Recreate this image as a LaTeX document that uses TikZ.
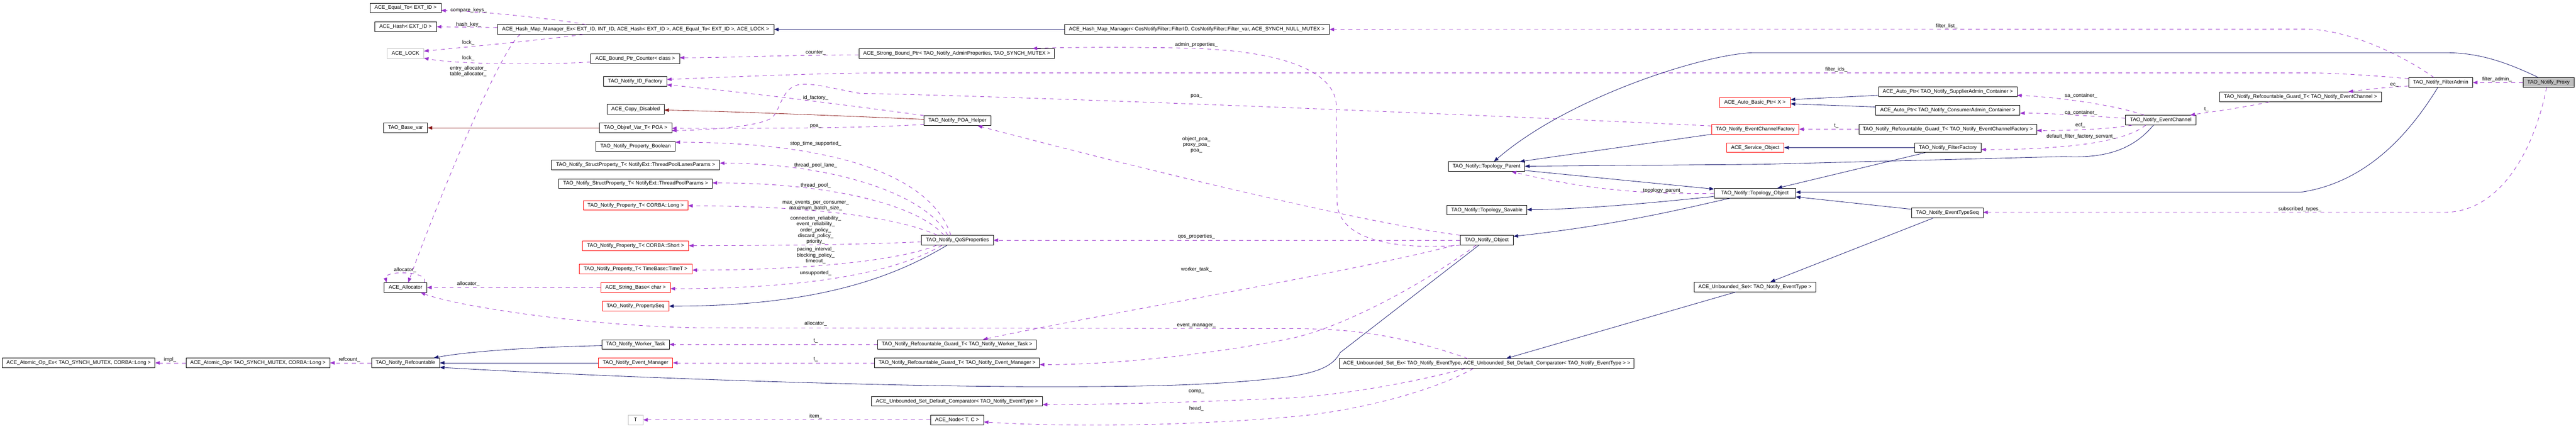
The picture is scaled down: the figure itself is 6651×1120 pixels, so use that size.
\documentclass[tikz,border=0pt]{standalone}
\usepackage{fontspec}
\setmainfont{Liberation Sans}
\usetikzlibrary{arrows.meta}
\definecolor{edgenavy}{HTML}{191970}
\definecolor{edgepurple}{HTML}{9A32CD}
\definecolor{edgered}{HTML}{8B1A1A}
\definecolor{nodegray}{HTML}{BFBFBF}
\tikzset{
 cls/.style={draw=black, line width=1pt, fill=white, minimum height=25pt, inner sep=0pt, font=\fontsize{13.3}{15}\selectfont},
 redcls/.style={cls, draw=red},
 graycls/.style={cls, draw=nodegray},
 maincls/.style={cls, fill=nodegray},
 inh/.style={draw=edgenavy, line width=1.1pt, -{Triangle[length=12pt,width=9pt]}},
 priv/.style={draw=edgered, line width=1.1pt, -{Triangle[length=12pt,width=9pt]}},
 uses/.style={draw=edgepurple, line width=1.1pt, dash pattern=on 10pt off 10pt, -{Triangle[length=12pt,width=9pt]}},
 lbl/.style={font=\fontsize{13.3}{15}\selectfont, inner sep=0pt, align=center, text=black},
}
\begin{document}
\begin{tikzpicture}[x=1pt,y=-1pt]
\useasboundingbox[fill=white] (0,0) rectangle (6651,1120);
% ---------- nodes ----------
\node[cls, minimum width=183pt] (EqualTo) at (1047,20.5) {ACE\_Equal\_To< EXT\_ID >};
\node[cls, minimum width=160pt] (Hash) at (1047,68.5) {ACE\_Hash< EXT\_ID >};
\node[graycls, minimum width=94pt] (Lock) at (1047,138) {ACE\_LOCK};
\node[cls, minimum width=113pt] (BaseVar) at (1047,330) {TAO\_Base\_var};
\node[cls, minimum width=110pt] (Allocator) at (1047,742) {ACE\_Allocator};
\node[cls, minimum width=394pt] (AtomicEx) at (203,936.5) {ACE\_Atomic\_Op\_Ex< TAO\_SYNCH\_MUTEX, CORBA::Long >};
\node[cls, minimum width=371pt] (Atomic) at (666,936.5) {ACE\_Atomic\_Op< TAO\_SYNCH\_MUTEX, CORBA::Long >};
\node[cls, minimum width=176pt] (Refcnt) at (1047,936.5) {TAO\_Notify\_Refcountable};
\node[cls, minimum width=714pt] (HashMapEx) at (1641,76) {ACE\_Hash\_Map\_Manager\_Ex< EXT\_ID, INT\_ID, ACE\_Hash< EXT\_ID >, ACE\_Equal\_To< EXT\_ID >, ACE\_LOCK >};
\node[cls, minimum width=229pt] (BoundCounter) at (1640,152) {ACE\_Bound\_Ptr\_Counter< class >};
\node[cls, minimum width=163pt] (IDFactory) at (1640,210) {TAO\_Notify\_ID\_Factory};
\node[cls, minimum width=147pt] (CopyDisabled) at (1641,282) {ACE\_Copy\_Disabled};
\node[cls, minimum width=187pt] (ObjrefPOA) at (1641,330) {TAO\_Objref\_Var\_T< POA >};
\node[cls, minimum width=205pt] (PropBool) at (1641,378) {TAO\_Notify\_Property\_Boolean};
\node[cls, minimum width=434pt] (StructLanes) at (1641,426) {TAO\_Notify\_StructProperty\_T< NotifyExt::ThreadPoolLanesParams >};
\node[cls, minimum width=396pt] (StructPool) at (1641,474) {TAO\_Notify\_StructProperty\_T< NotifyExt::ThreadPoolParams >};
\node[redcls, minimum width=270pt] (PropLong) at (1641,530) {TAO\_Notify\_Property\_T< CORBA::Long >};
\node[redcls, minimum width=274pt] (PropShort) at (1641,634) {TAO\_Notify\_Property\_T< CORBA::Short >};
\node[redcls, minimum width=292pt] (PropTime) at (1641,694) {TAO\_Notify\_Property\_T< TimeBase::TimeT >};
\node[redcls, minimum width=179pt] (StringBase) at (1641,742) {ACE\_String\_Base< char >};
\node[redcls, minimum width=172pt] (PropSeq) at (1641,790) {TAO\_Notify\_PropertySeq};
\node[cls, minimum width=174pt] (WorkerTask) at (1641,889) {TAO\_Notify\_Worker\_Task};
\node[redcls, minimum width=192pt] (EventMgr) at (1641,936.5) {TAO\_Notify\_Event\_Manager};
\node[graycls, minimum width=38pt] (T) at (1641,1083.5) {T};
\node[cls, minimum width=684pt] (HashMap) at (3090,76) {ACE\_Hash\_Map\_Manager< CosNotifyFilter::FilterID, CosNotifyFilter::Filter\_var, ACE\_SYNCH\_NULL\_MUTEX >};
\node[cls, minimum width=505pt] (StrongBound) at (2470,138) {ACE\_Strong\_Bound\_Ptr< TAO\_Notify\_AdminProperties, TAO\_SYNCH\_MUTEX >};
\node[cls, minimum width=172pt] (POAHelper) at (2472,311.5) {TAO\_Notify\_POA\_Helper};
\node[cls, minimum width=185pt] (QoS) at (2472,620) {TAO\_Notify\_QoSProperties};
\node[cls, minimum width=410pt] (GuardWorker) at (2471,889) {TAO\_Notify\_Refcountable\_Guard\_T< TAO\_Notify\_Worker\_Task >};
\node[cls, minimum width=426pt] (GuardEM) at (2471,936.5) {TAO\_Notify\_Refcountable\_Guard\_T< TAO\_Notify\_Event\_Manager >};
\node[cls, minimum width=441pt] (Comparator) at (2471,1035.5) {ACE\_Unbounded\_Set\_Default\_Comparator< TAO\_Notify\_EventType >};
\node[cls, minimum width=137pt] (Node) at (2471,1083.5) {ACE\_Node< T, C >};
\node[cls, minimum width=197pt] (TopoParent) at (3838,430) {TAO\_Notify::Topology\_Parent};
\node[cls, minimum width=206pt] (TopoSavable) at (3839,542) {TAO\_Notify::Topology\_Savable};
\node[cls, minimum width=137pt] (NotifyObject) at (3838.5,620) {TAO\_Notify\_Object};
\node[cls, minimum width=761pt] (UnbSetEx) at (3838.5,938) {ACE\_Unbounded\_Set\_Ex< TAO\_Notify\_EventType, ACE\_Unbounded\_Set\_Default\_Comparator< TAO\_Notify\_EventType > >};
\node[cls, minimum width=313pt] (UnbSet) at (4531,740.5) {ACE\_Unbounded\_Set< TAO\_Notify\_EventType >};
\node[redcls, minimum width=225pt] (ECF) at (4532,333.5) {TAO\_Notify\_EventChannelFactory};
\node[cls, minimum width=210pt] (TopoObject) at (4531,498.5) {TAO\_Notify::Topology\_Object};
\node[redcls, minimum width=183pt] (AutoBasic) at (4531,265) {ACE\_Auto\_Basic\_Ptr< X >};
\node[cls, minimum width=357pt] (AutoSupplier) at (5029,236.5) {ACE\_Auto\_Ptr< TAO\_Notify\_SupplierAdmin\_Container >};
\node[cls, minimum width=372pt] (AutoConsumer) at (5029,285) {ACE\_Auto\_Ptr< TAO\_Notify\_ConsumerAdmin\_Container >};
\node[cls, minimum width=459pt] (GuardECF) at (5029,333.5) {TAO\_Notify\_Refcountable\_Guard\_T< TAO\_Notify\_EventChannelFactory >};
\node[redcls, minimum width=148pt] (ServiceObject) at (4532,381) {ACE\_Service\_Object};
\node[cls, minimum width=172pt] (FilterFactory) at (5029,381) {TAO\_Notify\_FilterFactory};
\node[cls, minimum width=184pt] (EventTypeSeq) at (5028,549.5) {TAO\_Notify\_EventTypeSeq};
\node[cls, minimum width=182pt] (EventChannel) at (5579,310) {TAO\_Notify\_EventChannel};
\node[cls, minimum width=417pt] (GuardEC) at (5939.5,250) {TAO\_Notify\_Refcountable\_Guard\_T< TAO\_Notify\_EventChannel >};
\node[cls, minimum width=165pt] (FilterAdmin) at (6301.5,213) {TAO\_Notify\_FilterAdmin};
\node[maincls, minimum width=132pt] (Proxy) at (6580,213) {TAO\_Notify\_Proxy};
% ---------- edges: left cluster ----------
\draw[uses] (1513,0 |- HashMapEx.north) .. controls (1400,45) and (1250,30) .. (EqualTo.east |- 0,27);
\draw[uses] (HashMapEx.west |- 0,71) -- (Hash.east |- 0,69);
\draw[uses] (1506,0 |- HashMapEx.south) .. controls (1380,105) and (1200,122) .. (Lock.east |- 0,132);
\draw[uses] (BoundCounter.west |- 0,160) .. controls (1400,168) and (1180,166) .. (Lock.east |- 0,150);
\draw[uses] (1343,0 |- HashMapEx.south) .. controls (1290,130) and (1130,520) .. (1054,0 |- Allocator.north);
\draw[uses] (1095,0 |- Allocator.north) .. controls (1110,698) and (990,698) .. (998,0 |- Allocator.north);
\draw[uses] (StringBase.west) -- (Allocator.east);
\draw[uses] (3790,0 |- UnbSetEx.north) .. controls (3600,860) and (3480,848) .. (3330,848) -- (1800,846) .. controls (1500,840) and (1180,790) .. (1086,0 |- Allocator.south);
\draw[uses] (Atomic.west) -- (AtomicEx.east);
\draw[uses] (Refcnt.west) -- (Atomic.east);
\draw[inh] (WorkerTask.west |- 0,892) .. controls (1400,895) and (1220,905) .. (1120,0 |- Refcnt.north);
\draw[inh] (EventMgr.west) -- (Refcnt.east);
\draw[inh] (3818,0 |- NotifyObject.south) -- (3460,910) .. controls (3440,950) and (3390,962) .. (3330,972) .. controls (3150,995) and (2950,998) .. (2700,998) .. controls (2300,998) and (1600,975) .. (Refcnt.east |- 0,948);
\draw[priv] (ObjrefPOA.west) -- (BaseVar.east);
\draw[priv] (POAHelper.west |- 0,308) .. controls (2200,300) and (1900,288) .. (CopyDisabled.east |- 0,284);
\draw[uses] (POAHelper.west |- 0,321) .. controls (2250,330) and (2000,332) .. (ObjrefPOA.east |- 0,331);
\draw[uses] (POAHelper.west |- 0,298) .. controls (2250,280) and (1950,240) .. (IDFactory.east |- 0,219);
\draw[uses] (FilterAdmin.west |- 0,203) .. controls (6100,192) and (6000,188) .. (5950,188) -- (2300,188) .. controls (2100,189) and (1900,198) .. (IDFactory.east |- 0,205);
\draw[uses] (ECF.west |- 0,325) .. controls (3900,300) and (2700,250) .. (2220,241) .. controls (2150,228) and (2090,212) .. (2060,219) .. controls (2015,230) and (2015,290) .. (1990,306) .. controls (1950,328) and (1820,336) .. (ObjrefPOA.east |- 0,337);
\draw[uses] (StrongBound.west |- 0,142) .. controls (2000,142) and (1900,149) .. (BoundCounter.east |- 0,149);
\draw[inh] (HashMap.west) -- (HashMapEx.east);
\draw[uses] (6284,0 |- FilterAdmin.north) .. controls (6200,140) and (6060,75) .. (5950,75) -- (HashMap.east);
\draw[uses] (NotifyObject.south west) .. controls (3600,645) and (3455,620) .. (3452,520) -- (3450,270) .. controls (3445,180) and (3300,128) .. (3050,124) .. controls (2900,121) and (2750,122) .. (2666,0 |- StrongBound.north);
\draw[uses] (NotifyObject.north west) .. controls (3550,580) and (3000,450) .. (2524,0 |- POAHelper.south);
\draw[uses] (NotifyObject.west) -- (QoS.east);
\draw[uses] (3755,0 |- NotifyObject.south) .. controls (3500,700) and (2900,800) .. (2538,0 |- GuardWorker.north);
\draw[uses] (3811,0 |- NotifyObject.south) .. controls (3650,750) and (3450,850) .. (3330,874) .. controls (3150,910) and (2900,941) .. (GuardEM.east |- 0,941);
% ---------- QoS ----------
\draw[inh] (2445,0 |- QoS.south) .. controls (2300,720) and (2100,790) .. (PropSeq.east);
\draw[uses] (QoS.west |- 0,624) .. controls (2300,628) and (2100,634) .. (PropShort.east);
\draw[uses] (2418,0 |- QoS.south) .. controls (2330,670) and (2100,697) .. (PropTime.east |- 0,697);
\draw[uses] (2432,0 |- QoS.south) .. controls (2320,700) and (2100,745) .. (StringBase.east |- 0,745);
\draw[uses] (2455,0 |- QoS.north) .. controls (2410,470) and (2200,368) .. (PropBool.east |- 0,367);
\draw[uses] (2447,0 |- QoS.north) .. controls (2390,500) and (2150,422) .. (StructLanes.east |- 0,421);
\draw[uses] (2437,0 |- QoS.north) .. controls (2370,530) and (2150,472) .. (StructPool.east |- 0,472);
\draw[uses] (2420,0 |- QoS.north) .. controls (2340,570) and (2150,532) .. (PropLong.east |- 0,531);
\draw[uses] (GuardWorker.west) -- (WorkerTask.east);
\draw[uses] (GuardEM.west) -- (EventMgr.east);
\draw[uses] (Node.west) -- (T.east);
\draw[uses] (3783,0 |- UnbSetEx.south) .. controls (3600,1000) and (3420,1022) .. (3330,1027) .. controls (3000,1042) and (2800,1044) .. (Comparator.east |- 0,1044);
\draw[uses] (3804,0 |- UnbSetEx.south) .. controls (3700,1010) and (3500,1062) .. (3330,1076) .. controls (3050,1100) and (2750,1102) .. (Node.east |- 0,1089);
% ---------- right part ----------
\draw[inh] (4482,0 |- UnbSet.south) -- (3889,0 |- UnbSetEx.north);
\draw[inh] (4992,0 |- EventTypeSeq.south) -- (4571,0 |- UnbSet.north);
\draw[inh] (EventTypeSeq.west |- 0,540) -- (TopoObject.east |- 0,508);
\draw[inh] (4971,0 |- FilterFactory.south) -- (4589,0 |- TopoObject.north);
\draw[inh] (FilterFactory.west) -- (ServiceObject.east);
\draw[inh] (6294,0 |- FilterAdmin.south) .. controls (6230,330) and (6120,470) .. (5940,496) -- (TopoObject.east |- 0,496);
\draw[inh] (6554,0 |- Proxy.north) .. controls (6470,160) and (6400,136) .. (6315,136) -- (4525,136) .. controls (4400,140) and (4050,250) .. (3857,0 |- TopoParent.north);
\draw[inh] (ECF.south west) -- (3924,0 |- TopoParent.north);
\draw[inh] (5560,0 |- EventChannel.south) .. controls (5500,395) and (5420,408) .. (5330,404) -- (4550,424) -- (TopoParent.east |- 0,429);
\draw[inh] (TopoParent.east |- 0,440) -- (TopoObject.west |- 0,488);
\draw[inh] (TopoObject.west |- 0,507) .. controls (4300,520) and (4100,540) .. (TopoSavable.east |- 0,541);
\draw[inh] (4468,0 |- TopoObject.south) .. controls (4380,530) and (4200,578) .. (NotifyObject.east |- 0,610);
\draw[uses] (TopoObject.west |- 0,499) .. controls (4250,502) and (4100,490) .. (3903,0 |- TopoParent.south);
\draw[uses] (GuardECF.west) -- (ECF.east);
\draw[inh] (AutoSupplier.west |- 0,246) -- (AutoBasic.east |- 0,257);
\draw[inh] (AutoConsumer.west |- 0,276) -- (AutoBasic.east |- 0,268);
\draw[uses] (5536,0 |- EventChannel.north) .. controls (5450,268) and (5300,250) .. (AutoSupplier.east |- 0,246);
\draw[uses] (EventChannel.west |- 0,305) .. controls (5400,300) and (5300,292) .. (AutoConsumer.east |- 0,292);
\draw[uses] (5505,0 |- EventChannel.south) .. controls (5450,333) and (5350,337) .. (GuardECF.east |- 0,337);
\draw[uses] (5540,0 |- EventChannel.south) .. controls (5480,372) and (5300,386) .. (FilterFactory.east |- 0,386);
\draw[uses] (5859,0 |- GuardEC.south) .. controls (5780,280) and (5700,290) .. (5655,0 |- EventChannel.north);
\draw[uses] (FilterAdmin.west |- 0,222) .. controls (6150,226) and (6100,232) .. (6063,0 |- GuardEC.north);
\draw[uses] (Proxy.west) -- (FilterAdmin.east);
\draw[uses] (6575,0 |- Proxy.south) .. controls (6540,400) and (6450,545) .. (6315,548) -- (EventTypeSeq.east |- 0,548);
% ---------- labels ----------
\node[lbl] (l1) at (1210,27) {compare\_keys\_};
\node[lbl] (l2) at (1210,63.6) {hash\_key\_};
\node[lbl] (l3) at (1209,110) {lock\_};
\node[lbl] (l4) at (1209,150) {lock\_};
\node[lbl] (l5) at (1209,184.5) {entry\_allocator\_\\table\_allocator\_};
\node[lbl] (l6) at (1046,697) {allocator\_};
\node[lbl] (l7) at (1209,733) {allocator\_};
\node[lbl] (l8) at (2106,835) {allocator\_};
\node[lbl] (l9) at (439,928) {impl\_};
\node[lbl] (l10) at (902,928) {refcount\_};
\node[lbl] (l11) at (2106,136) {counter\_};
\node[lbl] (l12) at (2106,252) {id\_factory\_};
\node[lbl] (l13) at (2106,326) {poa\_};
\node[lbl] (l14) at (2106,371) {stop\_time\_supported\_};
\node[lbl] (l15) at (2106,427) {thread\_pool\_lane\_};
\node[lbl] (l16) at (2106,478.5) {thread\_pool\_};
\node[lbl] (l17) at (2106,530) {max\_events\_per\_consumer\_\\maximum\_batch\_size\_};
\node[lbl] (l18) at (2106,594) {connection\_reliability\_\\event\_reliability\_\\order\_policy\_\\discard\_policy\_\\priority\_};
\node[lbl] (l19) at (2106,659) {pacing\_interval\_\\blocking\_policy\_\\timeout\_};
\node[lbl] (l20) at (2106,705) {unsupported\_};
\node[lbl] (l21) at (2106,880) {t\_};
\node[lbl] (l22) at (2106,928) {t\_};
\node[lbl] (l23) at (2106,1074) {item\_};
\node[lbl] (l24) at (3089,115) {admin\_properties\_};
\node[lbl] (l25) at (3089,249) {poa\_};
\node[lbl] (l26) at (3089,373.5) {object\_poa\_\\proxy\_poa\_\\poa\_};
\node[lbl] (l27) at (3089,611) {qos\_properties\_};
\node[lbl] (l28) at (3089,696) {worker\_task\_};
\node[lbl] (l29) at (3089,840) {event\_manager\_};
\node[lbl] (l30) at (3089,1011) {comp\_};
\node[lbl] (l31) at (3089,1055) {head\_};
\node[lbl] (l32) at (4294,492) {topology\_parent\_};
\node[lbl] (l33) at (4741,180) {filter\_ids\_};
\node[lbl] (l34) at (4741,325) {t\_};
\node[lbl] (l35) at (5026,68) {filter\_list\_};
\node[lbl] (l36) at (5373,247.5) {sa\_container\_};
\node[lbl] (l37) at (5373,291) {ca\_container\_};
\node[lbl] (l38) at (5371,323) {ecf\_};
\node[lbl] (l39) at (5373,352) {default\_filter\_factory\_servant\_};
\node[lbl] (l40) at (5697,283) {t\_};
\node[lbl] (l41) at (6182,219) {ec\_};
\node[lbl] (l42) at (6447,205) {filter\_admin\_};
\node[lbl] (l43) at (5938,540) {subscribed\_types\_};
\end{tikzpicture}
\end{document}
